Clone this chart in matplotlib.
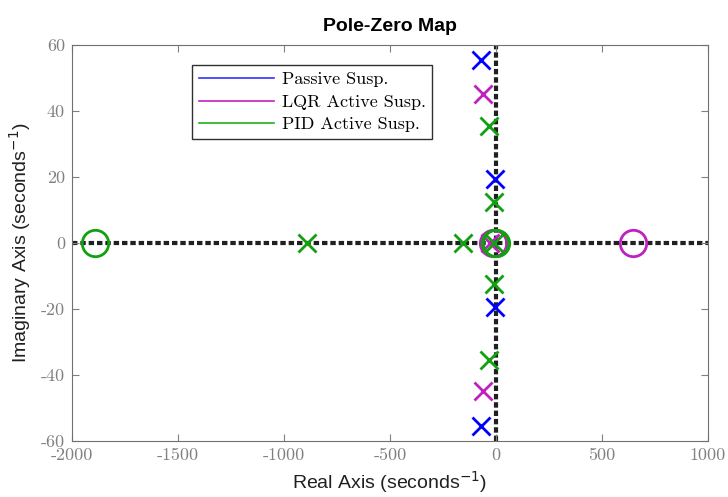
import numpy as np
import matplotlib.pyplot as plt

plt.rcParams['axes.unicode_minus'] = False

# poles / zeros (real, imag)
passive_poles_re = [-70, -70, -5, -5]
passive_poles_im = [55.5, -55.5, 19.5, -19.5]

lqr_poles_re = [-61, -61, -30]
lqr_poles_im = [45, -45, 0]
lqr_zeros_re = [646, -15]
lqr_zeros_im = [0, 0]

pid_poles_re = [-33, -33, -9, -9, -155, -892, -8]
pid_poles_im = [35.5, -35.5, 12.5, -12.5, 0, 0, 0]
pid_zeros_re = [-1892, -5, 0]
pid_zeros_im = [0, 0, 0]

series_labels = ['Passive Susp.', 'LQR Active Susp.', 'PID Active Susp.']
xticks = [-2000, -1500, -1000, -500, 0, 500, 1000]
yticks = [-60, -40, -20, 0, 20, 40, 60]

blue = '#0000ff'
mag = '#c020c0'
green = '#10a010'

fig = plt.figure(figsize=(7.28, 4.97), dpi=100)
ax = fig.add_axes([0.0989, 0.1127, 0.8736, 0.797])

ax.axhline(0, color='#202020', lw=3, ls=(0, (1.3, 0.7)), zorder=1)
ax.axvline(0, color='#202020', lw=3, ls=(0, (1.3, 0.7)), zorder=1)

mk = dict(ms=13, mew=2, ls='none', zorder=3)
mo = dict(mfc='none', ms=19, mew=2, ls='none', zorder=3)
ax.plot(passive_poles_re, passive_poles_im, 'x', color=blue, **mk)
ax.plot(lqr_poles_re, lqr_poles_im, 'x', color=mag, **mk)
ax.plot(lqr_zeros_re, lqr_zeros_im, 'o', color=mag, **mo)
ax.plot(pid_poles_re, pid_poles_im, 'x', color=green, **mk)
ax.plot(pid_zeros_re, pid_zeros_im, 'o', color=green, **mo)

h = [plt.Line2D([], [], color=c, lw=1.2) for c in ('#3030ff', mag, '#20b020')]
leg = ax.legend(h, series_labels, loc='upper left', bbox_to_anchor=(0.189, 0.948),
                borderaxespad=0, fancybox=False, edgecolor='#303030', framealpha=1,
                handlelength=4.2, prop={'family': 'cmr10', 'size': 13},
                labelspacing=0.38, borderpad=0.35, handletextpad=0.4)
leg.get_frame().set_linewidth(1.0)

ax.set_xlim(-2000, 1000)
ax.set_ylim(-60, 60)
ax.set_xticks(xticks)
ax.set_yticks(yticks)
ax.tick_params(direction='in', top=True, right=True, colors='#808080', labelsize=13, length=5, pad=5)
for lab in ax.get_xticklabels() + ax.get_yticklabels():
    lab.set_family('cmr10')
for s in ax.spines.values():
    s.set_color('#707070')

ax.set_xlabel('Real Axis (seconds$^{-1}$)', fontsize=14, family='Liberation Sans', color='#202020', labelpad=4)
ax.set_ylabel('Imaginary Axis (seconds$^{-1}$)', fontsize=14, family='Liberation Sans', color='#202020', labelpad=6)
ax.set_title('Pole-Zero Map', fontsize=14, fontweight='bold', family='Liberation Sans', pad=10)

fig.savefig('out.png', dpi=100)
